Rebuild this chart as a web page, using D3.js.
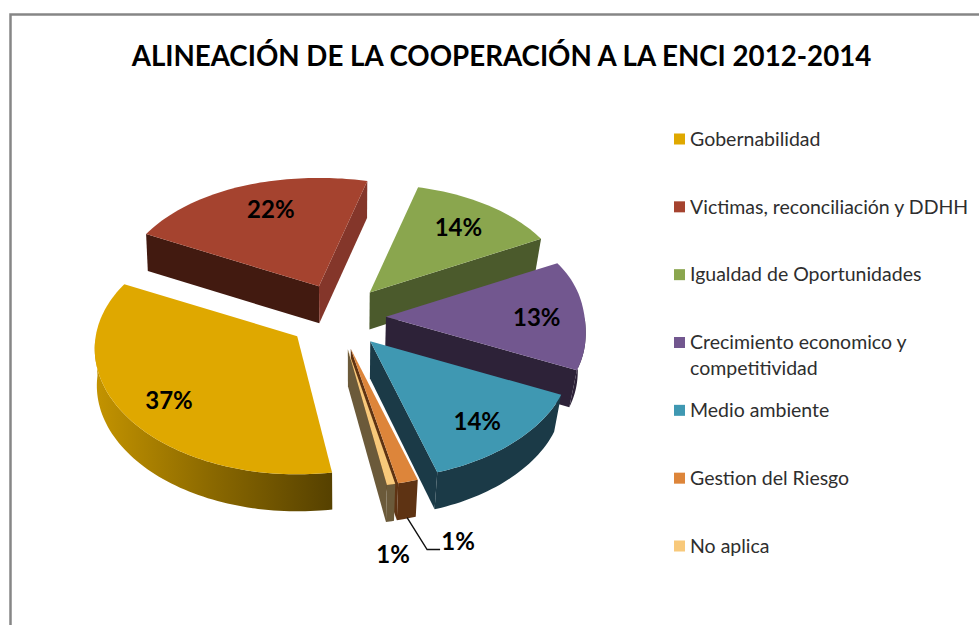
<!DOCTYPE html>
<html>
<head>
<meta charset="utf-8">
<style>
html,body{margin:0;padding:0;background:#fff;overflow:hidden}
svg{display:block}
text{font-family:Lato,"Open Sans",sans-serif}
</style>
<script src="https://cdn.jsdelivr.net/npm/d3@7"></script>
</head>
<body>
<svg id="c" width="979" height="625"></svg>
<script>
const titleText = "ALINEACIÓN DE LA COOPERACIÓN A LA ENCI 2012-2014";
const categories = ["Gobernabilidad","Victimas, reconciliación y DDHH","Igualdad de Oportunidades","Crecimiento economico y\ncompetitividad","Medio ambiente","Gestion del Riesgo","No aplica"];
const values = [37,22,14,13,14,1,1];
const topColors = ["#DFA800","#A5432F","#8AA64E","#72578F","#3F98B2","#DD853A","#F8C97B"];
const wallColors = ["url(#goldWall)","#421A10","#4B5A2C","#2D2238","#1B3A47","#5E3313","#6B5A3A"];
const cutColors = ["#5A4400","#84362A","#4B5A2C","#2D2238","#1B3A47","#5E3313","#6B5A3A"];

const svg = d3.select("#c");
const deg = Math.PI/180;
const cx = 337, cy = 317, tilt = 0.675, depth = 37, explode = 49, startDeg = 169;

// frame
svg.append("path").attr("d","M979,14.5H10.5V625").attr("fill","none").attr("stroke","#868686").attr("stroke-width",2.5);

// gradient on the gold slice's wall
const grad = svg.append("defs").append("linearGradient").attr("id","goldWall")
  .attr("gradientUnits","userSpaceOnUse").attr("x1",94).attr("x2",332).attr("y1",0).attr("y2",0);
grad.append("stop").attr("offset",0).attr("stop-color","#C49400");
grad.append("stop").attr("offset",0.5).attr("stop-color","#8A6800");
grad.append("stop").attr("offset",1).attr("stop-color","#564100");

// title
svg.append("text").attr("x",501.5).attr("y",66).attr("text-anchor","middle")
  .attr("font-size",27.7).attr("font-weight",700).attr("fill","#000").text(titleText);

const arcs = d3.pie().sort(null).value(d=>d).startAngle(startDeg*deg).endAngle((startDeg+360)*deg)(values);

// perspective distortions of the 3D view
const bump = (t,c,w) => Math.exp(-Math.pow((t-c)/w,2));
const warp = t => t - 5.5*bump(t,299,30) + 1.2*bump(t,169,3) - 1*bump(t,522,2) + 1.2*bump(t,525.4,1.5) - 1.5*bump(t,426.6,8);
const radius = t => {
  const w = ((t%360)+360)%360;
  return 192 - 22*Math.cos(t*deg) - 9.5*Math.cos(2*t*deg) - 3*bump(w,92,15);
};

function project(a, tDeg, r, z){
  const mid = (a.startAngle+a.endAngle)/2;
  const t = warp(tDeg), R = radius(t)*r;
  const X = explode*Math.sin(mid) + R*Math.sin(t*deg);
  const Y = explode*Math.cos(mid) + R*Math.cos(t*deg);
  let x = cx + X, y = cy - tilt*Y;
  if(z){ x -= (x-360)*(x>360?0.035:0.008)*z; y += depth*z; }
  return [x,y];
}
const rimAngles = (s,e) => {
  const n = Math.max(2,Math.ceil((e-s)/1.5)), out=[];
  for(let i=0;i<=n;i++) out.push(s+(e-s)*i/n);
  return out;
};
const line = d3.line();

const order = [1,2,3,4,5,6,0];
order.forEach(i=>{
  const a = arcs[i];
  const s = a.startAngle/deg, e = a.endAngle/deg;
  const g = svg.append("g");
  const apex = project(a,s,0,0), pS = project(a,s,1,0), pE = project(a,e,1,0);
  const rim = rimAngles(s,e);
  const centroid = project(a,(s+e)/2,0.6,0);
  // walls: a straight cut face shows when the slice's top lies above its edge
  const above = (p,q)=>{ const yAt = p[1]+(centroid[0]-p[0])*(q[1]-p[1])/(q[0]-p[0]); return centroid[1] < yAt; };
  [[pS,s],[pE,e]].forEach(([p,t])=>{
    if(above(apex,p)){
      g.append("path").attr("d",line([apex,p,project(a,t,1,1),project(a,t,0,1)])+"Z")
       .attr("fill",(i===1&&t===s)?wallColors[i]:cutColors[i]);
    }
  });
  // outer curved wall, front half only
  const front = rim.filter(t=>{const w=((warp(t)%360)+360)%360; return w>=90&&w<=270;});
  if(front.length>1){
    const pts = front.map(t=>project(a,t,1,0)).concat(front.slice().reverse().map(t=>project(a,t,1,1)));
    g.append("path").attr("d",line(pts)+"Z").attr("fill",wallColors[i]);
  }
  // top face
  const top = [apex].concat(rim.map(t=>project(a,t,1,0)));
  g.append("path").attr("d",line(top)+"Z").attr("fill",topColors[i]);
});

// value labels
const labelFmt = v => v+"%";
arcs.forEach((a,i)=>{
  if(values[i] < 5) return;
  const p = project(a,(a.startAngle+a.endAngle)/2/deg,0.76,0);
  svg.append("text").attr("x",p[0]).attr("y",p[1]+2).attr("dy","0.35em").attr("text-anchor","middle")
    .attr("font-size",24).attr("font-weight",700).attr("fill","#000").text(labelFmt(values[i]));
});
// small slices: outside labels
const mO = project(arcs[5],(arcs[5].startAngle+arcs[5].endAngle)/2/deg,1,1);
svg.append("path").attr("d",line([[mO[0],mO[1]-1],[mO[0]+20,mO[1]+31],[mO[0]+33,mO[1]+31]]))
  .attr("fill","none").attr("stroke","#111").attr("stroke-width",1.4);
svg.append("text").attr("x",mO[0]+51).attr("y",mO[1]+23).attr("dy","0.35em").attr("text-anchor","middle")
  .attr("font-size",24).attr("font-weight",700).text(labelFmt(values[5]));
const mL = project(arcs[6],(arcs[6].startAngle+arcs[6].endAngle)/2/deg,1,1);
svg.append("text").attr("x",mL[0]+2).attr("y",mL[1]+33).attr("dy","0.35em").attr("text-anchor","middle")
  .attr("font-size",24).attr("font-weight",700).text(labelFmt(values[6]));

// legend
const rowY = d3.scaleLinear().domain([0,categories.length-1]).range([139,546]);
const rows = svg.append("g").selectAll("g").data(categories).join("g")
  .attr("transform",(d,i)=>`translate(0,${rowY(i)})`);
rows.append("rect").attr("x",674).attr("y",-5.5).attr("width",11).attr("height",11).attr("fill",(d,i)=>topColors[i]);
rows.each(function(d){
  const t = d3.select(this).append("text").attr("font-size",19.5).attr("fill","#2e2e2e");
  d.split("\n").forEach((s,j)=>{
    t.append("tspan").attr("x",690).attr("y",j*26).attr("dy","0.35em").text(s);
  });
});
</script>
</body>
</html>
